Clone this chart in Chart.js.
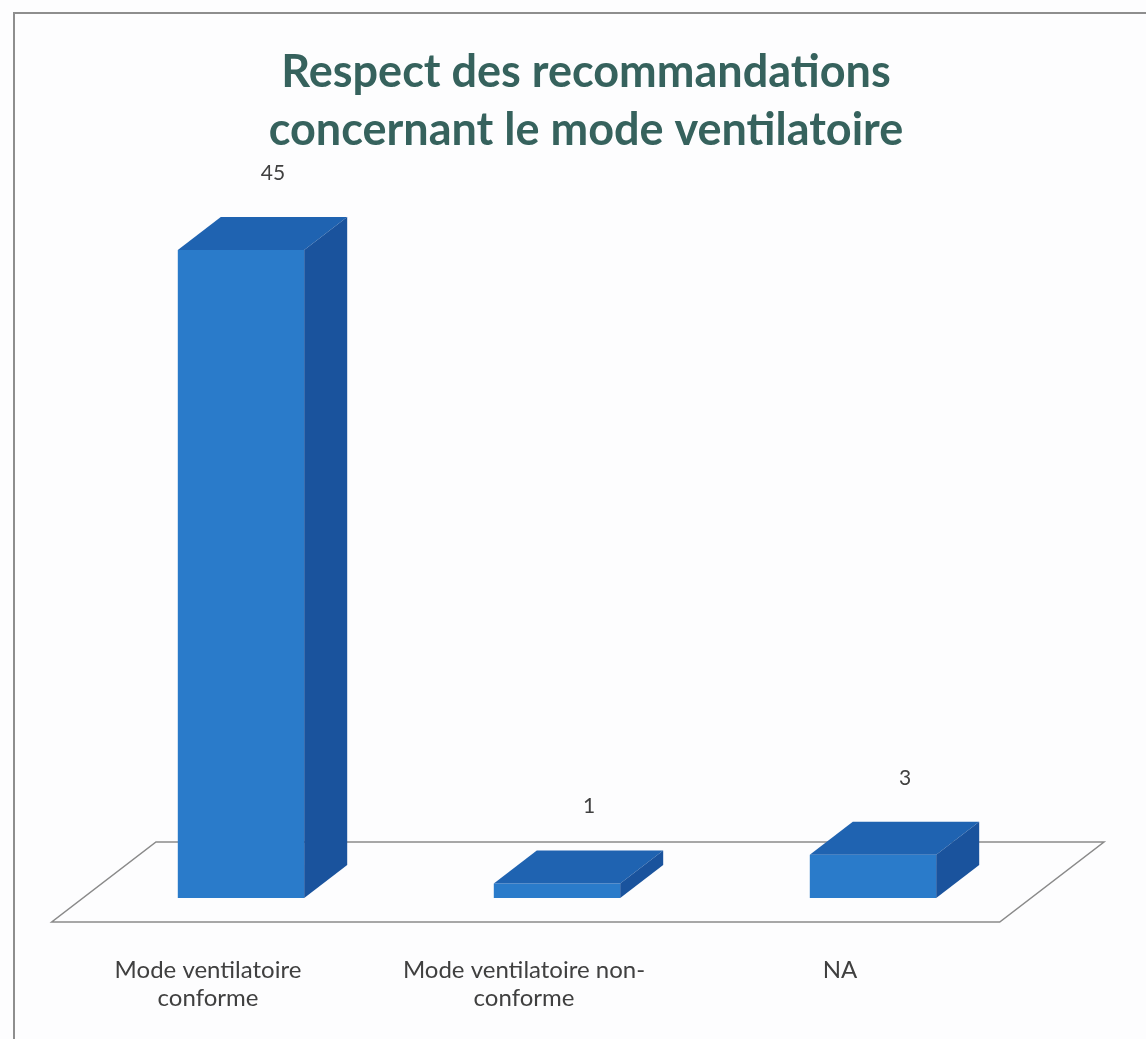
<!DOCTYPE html>
<html>
<head>
<meta charset="utf-8">
<title>Respect des recommandations</title>
<script src="https://cdn.jsdelivr.net/npm/chart.js@4.4.1/dist/chart.umd.min.js"></script>
<style>
  html, body { margin: 0; padding: 0; background: #fdfdfe; }
  canvas { display: block; }
</style>
</head>
<body>
<canvas id="chart" width="1146" height="1039"></canvas>
<script>
const titleLines = ['Respect des recommandations', 'concernant le mode ventilatoire'];
const categories = [['Mode ventilatoire', 'conforme'], ['Mode ventilatoire non-', 'conforme'], 'NA'];
const counts = [45, 1, 3];

// colours of the three visible faces of each block
const frontColor = '#2a7bca';
const topColor = '#1f63b1';
const sideColor = '#1a539d';

// depth of the blocks and of the floor, as an (x, up) vector
const depthX = 43;
const depthY = 33;
const slope = depthX / depthY;
const floorFront = 24;
const floorBack = 56;

const solidBars = {
    id: 'solidBars',
    beforeDraw(chart) {
        const ctx = chart.ctx;
        ctx.save();
        ctx.fillStyle = '#fdfdfe';
        ctx.fillRect(0, 0, chart.width, chart.height);
        // frame
        ctx.strokeStyle = '#8e8e8e';
        ctx.lineWidth = 2;
        ctx.beginPath();
        ctx.moveTo(14, chart.height);
        ctx.lineTo(14, 13);
        ctx.lineTo(chart.width, 13);
        ctx.stroke();
        ctx.restore();
    },
    beforeDatasetsDraw(chart) {
        // floor under the blocks
        const ctx = chart.ctx;
        const area = chart.chartArea;
        const yFront = area.bottom + floorFront;
        const yBack = area.bottom - floorBack;
        ctx.save();
        ctx.strokeStyle = '#8a8a8a';
        ctx.lineWidth = 1.5;
        ctx.beginPath();
        ctx.moveTo(area.left - floorFront * slope, yFront);
        ctx.lineTo(area.right - floorFront * slope, yFront);
        ctx.lineTo(area.right + floorBack * slope, yBack);
        ctx.lineTo(area.left + floorBack * slope, yBack);
        ctx.closePath();
        ctx.stroke();
        ctx.restore();
    },
    afterDatasetsDraw(chart) {
        const ctx = chart.ctx;
        const meta = chart.getDatasetMeta(0);
        ctx.save();
        meta.data.forEach(function(bar, i) {
            const left = bar.x - bar.width / 2;
            const right = bar.x + bar.width / 2;
            const top = bar.y;
            const base = bar.base;

            ctx.fillStyle = topColor;
            ctx.beginPath();
            ctx.moveTo(left, top);
            ctx.lineTo(right, top);
            ctx.lineTo(right + depthX, top - depthY);
            ctx.lineTo(left + depthX, top - depthY);
            ctx.closePath();
            ctx.fill();

            ctx.fillStyle = sideColor;
            ctx.beginPath();
            ctx.moveTo(right, top);
            ctx.lineTo(right + depthX, top - depthY);
            ctx.lineTo(right + depthX, base - depthY);
            ctx.lineTo(right, base);
            ctx.closePath();
            ctx.fill();

            // value label above the block
            ctx.fillStyle = '#404040';
            ctx.font = '21px Lato';
            ctx.textAlign = 'center';
            ctx.textBaseline = 'middle';
            ctx.fillText(String(counts[i]), bar.x + 32, top - 77);
        });
        ctx.restore();
    }
};

const canvas = document.getElementById('chart');
const chart = new Chart(canvas, {
    type: 'bar',
    data: {
        labels: categories,
        datasets: [{
            data: counts,
            backgroundColor: frontColor,
            borderWidth: 0,
            barPercentage: 0.5,
            categoryPercentage: 0.8
        }]
    },
    options: {
        responsive: false,
        animation: false,
        layout: {
            padding: { left: 83, right: 57, top: 0, bottom: 27 }
        },
        plugins: {
            legend: { display: false },
            tooltip: { enabled: false },
            title: {
                display: true,
                text: titleLines,
                color: '#36625d',
                font: { family: 'Lato', size: 45, weight: 'bold', lineHeight: 1.29 },
                padding: { top: 43, bottom: 19 }
            }
        },
        scales: {
            x: {
                grid: { display: false, drawTicks: false },
                border: { display: false },
                ticks: {
                    color: '#404040',
                    font: { family: 'Lato', size: 24, lineHeight: 1.17 },
                    padding: 58,
                    labelOffset: -33,
                    maxRotation: 0,
                    autoSkip: false
                },
                afterFit: function(scale) {
                    scale.height = 114;
                }
            },
            y: {
                position: 'right',
                min: 0,
                max: 50,
                grid: { display: false, drawTicks: false },
                border: { display: false },
                ticks: { display: false },
                afterFit: function(scale) {
                    scale.width = 58;
                }
            }
        }
    },
    plugins: [solidBars]
});
</script>
</body>
</html>
